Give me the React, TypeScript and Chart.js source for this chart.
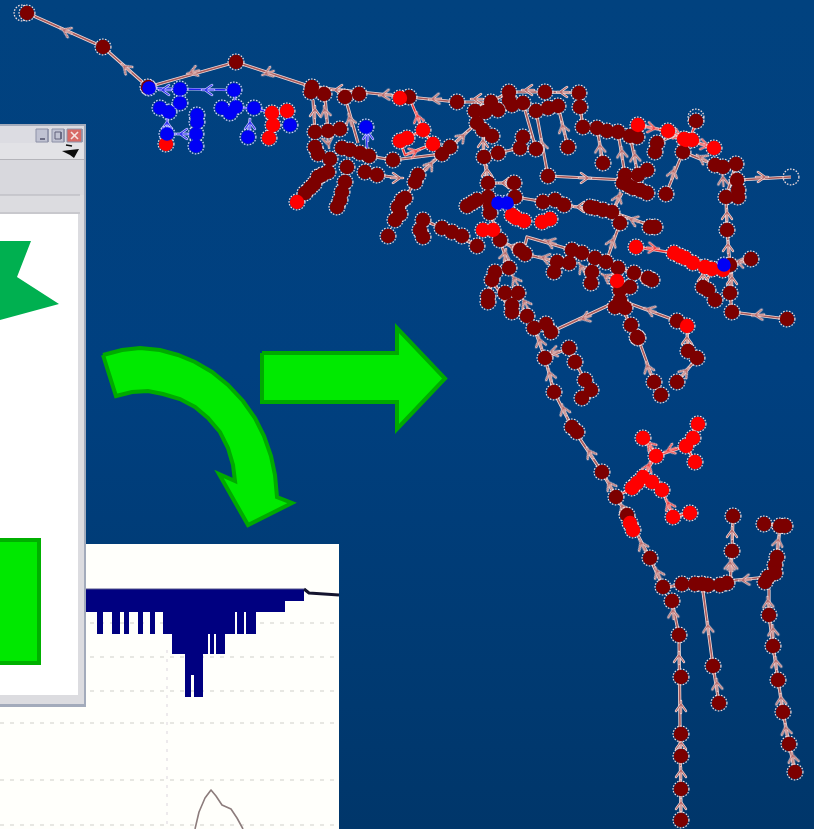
import React, { useEffect, useRef } from "react";
import { Chart, registerables } from "chart.js";
Chart.register(...registerables);

// Network: node positions as flat x,y lists
const darkNodes = [
  27,13, 103,47, 148,87, 236,62, 312,87, 311,92, 324,94, 345,97, 359,94, 409,97,
  315,132, 328,131, 340,129, 315,147, 318,154, 330,159, 342,148, 350,150, 360,153, 369,156,
  347,167, 345,182, 342,192, 340,200, 337,207, 328,172, 318,177, 322,175, 314,184, 310,188, 305,193, 365,172, 377,175, 393,160,
  388,236, 395,220, 398,207, 400,214, 402,200, 405,198, 415,182, 418,175,
  457,102, 491,102, 475,111, 485,112, 498,110, 509,92, 509,100, 512,105, 523,103, 545,92, 536,111, 548,108, 558,106,
  579,93, 580,107, 583,127, 597,128, 607,131, 618,132, 630,136, 637,137,
  568,147, 603,163, 536,149, 520,148, 523,137, 498,153, 484,157, 477,123, 483,130, 492,136,
  450,147, 442,154, 548,176, 625,175, 623,183, 629,186, 633,188, 640,190, 647,193, 638,175, 647,170, 666,194, 655,152, 657,143, 683,152,
  715,165, 723,167, 736,164, 737,180, 738,190, 738,197, 726,197, 727,230, 730,265, 751,259, 730,293, 732,312, 787,319,
  703,287, 708,290, 715,300, 696,121,
  488,183, 488,197, 490,205, 490,213, 514,183, 515,197, 472,203, 467,206, 477,200,
  543,202, 555,200, 564,205, 590,207, 595,208, 603,210, 612,212, 620,223, 655,227, 650,227,
  500,240, 477,246, 462,236, 452,232, 442,228, 423,220, 420,230, 423,237, 525,254, 520,250,
  557,262, 554,272, 569,263, 572,250, 582,253, 595,258, 606,262, 618,268, 592,272, 591,283, 634,273, 652,280, 648,278,
  630,287, 620,300, 615,307, 625,308, 620,290, 631,325, 637,337, 677,321,
  509,268, 495,272, 492,280, 488,302, 488,296, 505,293, 518,293, 512,312, 512,305, 527,316, 534,328, 546,324, 551,332,
  638,338, 654,382, 661,395, 688,351, 697,358, 677,382,
  545,358, 569,348, 575,362, 585,380, 591,390, 582,398, 554,392, 572,427, 577,432, 602,472, 616,497, 627,515, 650,558,
  733,516, 732,551, 764,524, 780,526, 785,526, 777,557, 775,565,
  663,587, 672,601, 679,635, 681,677, 681,734, 681,756, 681,789, 681,820,
  682,584, 695,584, 702,584, 708,585, 720,585, 727,583, 713,666, 719,703,
  765,582, 768,577, 775,573, 769,615, 773,646, 778,680, 783,712, 789,744, 795,772,
];
const redNodes = [
  166,144, 272,113, 273,125, 269,138, 287,111, 297,202, 400,98, 423,130, 407,138, 400,141, 433,144,
  638,125, 668,131, 684,139, 686,140, 692,140, 714,148, 636,247, 674,253, 680,256, 685,258, 693,263, 705,267, 712,269, 723,270,
  512,215, 516,218, 524,221, 542,222, 550,219, 483,230, 493,230, 617,281, 687,326, 630,523, 633,530,
  698,424, 693,438, 686,446, 695,462, 643,438, 656,456, 643,477, 632,488, 637,483, 652,482, 662,490, 673,517, 690,513,
];
const blueNodes = [
  149,88, 180,89, 234,90, 160,108, 169,112, 180,103, 222,108, 230,113, 236,107, 254,108,
  197,115, 197,122, 167,134, 196,134, 196,146, 248,137, 290,125, 366,127, 498,203, 507,203, 724,265,
];
const hollowNodes = [791,177, 22,13, 696,117];

// Network: links as polylines
const darkEdges = [
  [27,13, 103,47, 148,87, 236,62, 312,87, 409,97, 457,102, 491,102, 509,92, 545,92, 579,93, 580,107, 583,127, 597,128, 618,132, 637,137],
  [313,100, 315,132], [325,97, 328,131], [345,97, 358,143], [491,102, 475,111, 477,123, 492,136],
  [509,92, 512,105, 523,103, 536,149], [536,111, 548,108, 558,106], [536,111, 548,176, 625,180], [558,106, 568,147],
  [597,128, 603,163], [618,132, 625,175], [630,136, 638,175], [622,193, 612,212], [515,197, 564,205, 612,212, 655,227],
  [620,223, 606,262], [442,154, 477,123], [484,157, 498,153, 520,148, 523,137], [483,130, 484,157, 488,183, 514,183],
  [488,183, 490,213, 500,240, 525,254, 557,262], [500,240, 509,268], [525,245, 527,237, 572,250, 606,262, 618,268, 620,300],
  [652,280, 625,270], [683,152, 666,194], [683,152, 715,165], [657,143, 675,135], [726,197, 727,230, 730,265, 730,293, 732,312, 787,319],
  [736,164, 726,197], [738,180, 791,177], [730,265, 751,259], [703,287, 715,265], [620,300, 551,332], [620,300, 677,321],
  [620,305, 631,325, 638,338, 654,382, 661,395], [687,326, 688,351, 697,358, 677,382], [534,328, 545,358, 569,348],
  [569,348, 575,362, 585,380, 591,390, 582,398], [545,358, 554,392, 572,427, 602,472, 616,497, 627,515, 650,558, 663,587],
  [492,280, 512,313, 527,316, 534,328], [488,302, 492,280], [663,587, 768,577], [702,584, 713,666, 719,703],
  [672,601, 679,635, 681,820], [769,590, 769,615, 773,646, 778,680, 783,712, 789,744, 795,772], [733,516, 732,551, 730,585],
  [780,526, 777,557, 775,573], [369,156, 393,160, 442,154, 418,175], [377,175, 400,178], [405,198, 415,182], [423,220, 442,228],
  [477,246, 442,228], [764,524, 785,526],
];
const redEdges = [
  [400,98, 409,97, 423,130, 433,144, 442,154], [407,138, 423,130], [400,141, 405,155, 433,144],
  [638,125, 668,131, 689,140, 696,123], [689,140, 714,148], [636,247, 674,253, 723,270],
  [643,438, 656,456, 686,446, 698,424], [686,446, 695,462], [656,456, 643,477], [616,497, 632,488, 643,477, 662,490, 673,517, 690,513],
];
const blueEdges = [
  [149,88, 180,89, 234,90, 236,107], [180,89, 180,103, 169,112], [222,108, 254,108, 272,113, 287,111, 290,125], [272,113, 269,138],
  [168,112, 167,134, 166,144], [167,134, 196,134], [197,115, 196,146], [248,137, 250,118], [366,127, 367,148],
];

// Flow chevrons: x, y, heading in degrees clockwise from up
const darkArrows = [
  [66,31,-66], [126,68,-48], [193,72,-106], [268,73,-110], [338,90,-90], [385,95,-95], [435,99,-95], [477,99,-90],
  [528,90,-90], [563,92,-90], [315,112,0], [325,112,-10], [350,120,-15], [328,142,170], [397,178,90],
  [542,145,-10], [563,128,-15], [600,148,-5], [622,153,-5], [635,157,-5], [585,178,90], [462,137,45], [430,165,35],
  [483,143,0], [487,172,0], [505,183,-90], [580,207,-90], [618,198,20], [633,220,-70], [612,242,20], [505,255,10],
  [513,247,-70], [550,242,-70], [545,258,-75], [582,268,-30], [607,277,-60], [642,277,-65], [515,280,-30], [525,303,-30],
  [585,318,-110], [650,310,-70], [762,177,90], [727,215,0], [728,247,0], [740,262,-80], [732,280,0], [758,315,-95],
  [673,173,15], [702,158,-60], [703,277,0], [723,180,-5], [540,342,-15], [550,375,-15], [553,352,-100], [564,410,-20],
  [590,453,-30], [610,485,-30], [623,508,-25], [642,545,-25], [648,368,-20], [687,340,0], [685,372,40],
  [732,533,0], [732,565,-5], [778,542,10], [658,573,-25], [673,613,-5], [679,658,0], [681,707,0], [681,745,0], [681,773,0],
  [681,805,0], [708,628,-5], [717,685,-5], [745,580,-95], [730,565,5], [768,603,-5], [773,631,-5], [776,663,-5],
  [781,700,-5], [786,730,-10], [793,758,-10],
];
const redArrows = [
  [652,128,100], [678,135,110], [705,145,100], [653,248,95], [650,445,-40], [670,450,-110], [648,467,20], [669,505,-25],
  [418,118,-15], [414,152,70],
];
const blueArrows = [[165,90,-90], [208,90,-90], [183,134,-90], [250,125,0], [167,125,0], [368,135,0]];

// Pasted panel behind the window
const panelBox = [0,544, 339,829];
const navyColumns = [
  [86,97,612], [97,103,634], [103,112,612], [112,120,634], [120,124,612], [124,129,634], [129,138,612], [138,143,634],
  [143,150,612], [150,155,634], [155,163,612], [163,172,634], [172,185,654], [185,191,697], [191,194,675], [194,203,697],
  [203,208,654], [208,210,634], [210,214,654], [214,216,634], [216,225,654], [225,235,634], [235,237,612], [237,244,634],
  [244,246,612], [246,256,634], [256,285,612], [285,304,601],
];
const panelTail = [304,589, 309,593, 339,595];
const panelGridY = [623, 657, 691, 723, 780, 825];
const panelTrace = [195,829, 199,812, 205,798, 211,790, 216,796, 222,805, 231,809, 237,818, 243,829];
const panelCursor = [167,650, 167,829];

// Dialog window pieces
const windowBoxes = [
  [0,124,86,707], [0,126,84,143], [0,143,84,160], [0,160,84,195], [0,195,84,213], [0,213,84,704], [0,214,78,695],
];
const windowBoxColors = ["#a3abbb", "#dcdce2", "#e2e2e6", "#d8d8dd", "#dcdce0", "#dcdce0", "#ffffff"];
const windowButtons = [[36,129,48,142], [52,129,64,142], [67,129,82,142]];
const windowCloseCross = [[71,132,78,139], [78,132,71,139]];
const windowMark = [62,151, 70,150, 79,149, 74,158, 70,155];
const windowRules = [[0,159.5,84,159.5], [0,195,80,195], [0,213,80,213]];

// Green annotation shapes
const starShape = [0,241, 31,241, 17,277, 59,304, 0,320];
const boxShape = [-10,540, 39,540, 39,663, -10,663];
const straightArrow = [262,353, 397,353, 397,328, 445,378.5, 397,429, 397,402, 262,402];
const bentArrow = [
  103,355, 122,350, 140,348, 160,350, 178,355, 195,362, 212,372, 228,385, 243,401, 255,418, 264,436, 271,456, 275,475, 277,497,
  292,503, 248,525, 219,474, 235,481, 233,465, 228,448, 220,432, 208,418, 195,407, 180,399, 163,394, 148,391, 132,392, 116,396,
];

const pts = (flat: number[]) => {
  const out: { x: number; y: number }[] = [];
  for (let i = 0; i < flat.length; i += 2) out.push({ x: flat[i], y: flat[i + 1] });
  return out;
};
const closed = (flat: number[]) => pts([...flat, flat[0], flat[1]]);
const boxPts = (b: number[]) => closed([b[0], b[1], b[2], b[1], b[2], b[3], b[0], b[3]]);
const joined = (lines: number[][]) =>
  lines.flatMap((l) => [...pts(l), { x: NaN, y: NaN }]);

const sprite = (draw: (c: CanvasRenderingContext2D) => void, size: number) => {
  const cv = document.createElement("canvas");
  cv.width = size;
  cv.height = size;
  const c = cv.getContext("2d")!;
  draw(c);
  return cv;
};
const ring = (color: string) =>
  sprite((c) => {
    c.strokeStyle = color;
    c.lineWidth = 1.3;
    c.setLineDash([1.6, 1.4]);
    c.beginPath();
    c.arc(10, 10, 7.9, 0, Math.PI * 2);
    c.stroke();
  }, 20);
const chevron = (outer: string, inner: string) =>
  sprite((c) => {
    const path = () => {
      c.beginPath();
      c.moveTo(3, 12);
      c.lineTo(8, 5);
      c.lineTo(13, 12);
      c.moveTo(8, 2);
      c.lineTo(8, 14);
      c.stroke();
    };
    c.lineCap = "round";
    c.strokeStyle = outer;
    c.lineWidth = 2.4;
    path();
    c.strokeStyle = inner;
    c.lineWidth = 1.1;
    path();
  }, 16);

export default function App() {
  const ref = useRef<HTMLCanvasElement>(null);
  useEffect(() => {
    const d: any[] = [];
    const shape = (data: any[], fill: string, stroke = "transparent", width = 0) =>
      d.push({ data, fill: "shape", backgroundColor: fill, borderColor: stroke, borderWidth: width, pointRadius: 0, tension: 0 });
    const stroke = (data: any[], color: string, width: number, dash: number[] = []) =>
      d.push({ data, fill: false, borderColor: color, borderWidth: width, borderDash: dash, pointRadius: 0, spanGaps: false, tension: 0, borderJoinStyle: "round" });
    const marks = (data: any[], opts: any) =>
      d.push({ data, showLine: false, fill: false, pointBorderWidth: 0, pointBackgroundColor: "transparent", pointBorderColor: "transparent", ...opts });

    // panel
    shape(boxPts(panelBox), "#fffffb");
    panelGridY.forEach((y) => stroke(pts([0, y, 339, y]), "#e0e0da", 1.5, [4, 6]));
    stroke(pts(panelCursor), "#e8e4e8", 1.5, [3, 6]);
    navyColumns.forEach((c) => shape(boxPts([c[0], 589, c[1], c[2]]), "#000080"));
    stroke(pts(panelTail), "#14142e", 3);
    stroke(pts([86, 589, 304, 589]), "#55558a", 1);
    stroke(pts(panelTrace), "#8c7c7c", 1.6);

    // window
    windowBoxes.forEach((b, i) => shape(boxPts(b), windowBoxColors[i]));
    windowRules.forEach((r) => stroke(pts(r), "#b4b4ba", 1));
    windowButtons.forEach((b, i) => shape(boxPts(b), i === 2 ? "#d86a66" : "#c0c2d2", "#8e92a8", 1));
    windowCloseCross.forEach((l) => stroke(pts(l), "#f6e4e2", 1.6));
    stroke(pts([40, 139, 45, 139]), "#50506a", 1.5);
    stroke(boxPts([55, 132, 61, 139]), "#60607a", 1);
    shape(closed(windowMark), "#0c0c0c");
    stroke(pts([66, 145, 72, 146]), "#0c0c0c", 1.5);

    // green shapes
    shape(closed(starShape), "#00b050");
    shape(closed(boxShape), "#00e800", "#00b000", 4);
    shape(closed(bentArrow), "#00ea00", "#00aa00", 4);
    shape(closed(straightArrow), "#00ea00", "#00aa00", 4);

    // network links
    const links = joined(darkEdges);
    stroke(links, "#f0d8d8", 3.2);
    stroke(links, "#a85a5a", 1.6);
    const rl = joined(redEdges);
    stroke(rl, "#f4c8c8", 3);
    stroke(rl, "#f03030", 1.4);
    const bl = joined(blueEdges);
    stroke(bl, "#c4c4ff", 2.6);
    stroke(bl, "#2020f0", 1.3);

    // chevrons
    const arrowLayer = (list: number[][], img: HTMLCanvasElement) =>
      marks(list.map((a) => ({ x: a[0], y: a[1] })), {
        pointStyle: img,
        pointRadius: 8,
        pointRotation: list.map((a) => a[2]),
      });
    arrowLayer(darkArrows, chevron("#f0dcdc", "#b86a6a"));
    arrowLayer(redArrows, chevron("#f8d0d0", "#f04040"));
    arrowLayer(blueArrows, chevron("#d0d0ff", "#3030f0"));

    // nodes: dotted rings under solid discs so that clusters merge
    const ringPale = ring("#f2dcdc");
    const ringBlue = ring("#d0d0ff");
    marks(pts(hollowNodes), { pointStyle: ringPale, pointRadius: 8 });
    marks(pts(darkNodes), { pointStyle: ringPale, pointRadius: 8 });
    marks(pts(redNodes), { pointStyle: ringPale, pointRadius: 8 });
    marks(pts(blueNodes), { pointStyle: ringBlue, pointRadius: 8 });
    marks(pts(darkNodes), { pointStyle: "circle", pointRadius: 7.2, pointBackgroundColor: "#7c0000" });
    marks(pts(redNodes), { pointStyle: "circle", pointRadius: 7.2, pointBackgroundColor: "#ff0000" });
    marks(pts(blueNodes), { pointStyle: "circle", pointRadius: 6.8, pointBackgroundColor: "#0000f6" });

    d.forEach((s, i) => (s.order = d.length - i));

    const chart = new Chart(ref.current!, {
      type: "line",
      data: { datasets: d },
      options: {
        animation: false,
        responsive: false,
        devicePixelRatio: 1,
        events: [],
        layout: { padding: 0, autoPadding: false },
        plugins: { legend: { display: false }, tooltip: { enabled: false }, title: { display: false } },
        scales: {
          x: { type: "linear", display: false, min: 0, max: 814 },
          y: { type: "linear", display: false, min: 0, max: 829, reverse: true },
        },
      },
    });
    return () => chart.destroy();
  }, []);
  return (
    <div style={{ position: "fixed", inset: 0, width: 814, height: 829, background: "linear-gradient(#01427f 0%, #004080 45%, #003a72 80%, #00366a 100%)" }}>
      <canvas ref={ref} width={814} height={829} style={{ display: "block" }} />
    </div>
  );
}
